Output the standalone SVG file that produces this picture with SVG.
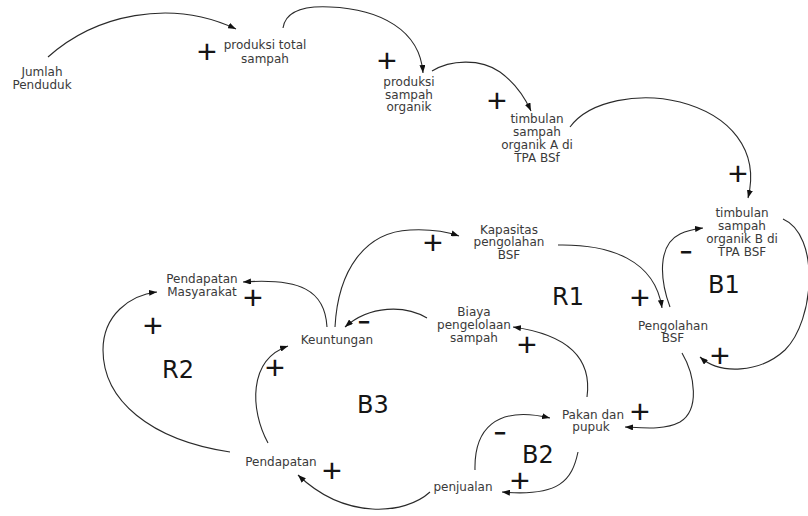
<svg xmlns="http://www.w3.org/2000/svg" width="808" height="516" viewBox="0 0 808 516">
<defs>
<style>
.n{font-family:"DejaVu Sans","Liberation Sans",sans-serif;font-size:12px;fill:#3a3a3a;text-anchor:middle}
.L{font-family:"DejaVu Sans","Liberation Sans",sans-serif;font-size:24px;fill:#151515}
.s{font-family:"Liberation Sans",Arial,sans-serif;font-size:34px;fill:#151515;text-anchor:middle}
.m{font-family:"Liberation Sans",Arial,sans-serif;font-size:18px;fill:#151515;stroke:#151515;stroke-width:1.4;text-anchor:middle}
.c{fill:none;stroke:#2a2a2a;stroke-width:1.1;marker-end:url(#ah)}
</style>
<marker id="ah" markerWidth="8" markerHeight="6" refX="8" refY="3" orient="auto" markerUnits="userSpaceOnUse"><path d="M0,0 L8,3 L0,6 z" fill="#111"/></marker>
</defs>
<rect width="808" height="516" fill="#fff"/>
<g id="connectors">
<path class="c" d="M48,57 C95,15 170,-2 236,29"/>
<path class="c" d="M283,28 C286,8 310,6 330,7 C380,9 420,30 423,73"/>
<path class="c" d="M432,71 C450,60 480,58 500,72 C515,83 525,98 531,111"/>
<path class="c" d="M570,127 C590,100 640,92 680,102 C730,115 760,150 748,198"/>
<path class="c" d="M335,327 C338,270 365,232 410,230 C430,229 445,231 459,236"/>
<path class="c" d="M558,245 C610,244 655,260 662,308"/>
<path class="c" d="M670,307 C660,280 657,245 680,234 C688,230 695,229 703,228"/>
<path class="c" d="M783,219 C820,235 815,320 785,350 C760,373 720,375 700,357"/>
<path class="c" d="M682,353 C695,375 700,410 680,422 C665,430 645,428 625,427"/>
<path class="c" d="M587,397 C592,360 570,335 513,327"/>
<path class="c" d="M427,318 C405,305 370,305 345,327"/>
<path class="c" d="M327,327 C325,290 300,278 243,282"/>
<path class="c" d="M230,452 C150,440 103,400 103,350 C103,315 130,295 157,292"/>
<path class="c" d="M268,443 C250,410 248,360 288,346"/>
<path class="c" d="M430,492 C405,515 345,520 298,475"/>
<path class="c" d="M578,452 C572,480 560,497 502,492"/>
<path class="c" d="M475,470 C474,430 495,405 550,418"/>
</g>
<g id="signs">
<text class="s" x="207" y="63">+</text>
<text class="s" x="387" y="72">+</text>
<text class="s" x="497" y="112">+</text>
<text class="s" x="738" y="185">+</text>
<text class="s" x="433" y="254">+</text>
<text class="s" x="640" y="309">+</text>
<text class="s" x="720" y="367">+</text>
<text class="s" x="640" y="423">+</text>
<text class="s" x="527" y="356">+</text>
<text class="s" x="253" y="309">+</text>
<text class="s" x="153" y="337">+</text>
<text class="s" x="275" y="379">+</text>
<text class="s" x="332" y="482">+</text>
<text class="s" x="520" y="492">+</text>
<text class="m" x="686" y="257.5">−</text>
<text class="m" x="364" y="328">−</text>
<text class="m" x="500" y="438.5">−</text>
</g>
<g id="loops">
<text class="L" x="552" y="305">R1</text>
<text class="L" x="708" y="293">B1</text>
<text class="L" x="162" y="378">R2</text>
<text class="L" x="357" y="413">B3</text>
<text class="L" x="522" y="463">B2</text>
</g>
<g id="jumlah-penduduk"><text class="n" y="76"><tspan x="42">Jumlah</tspan><tspan x="42" dy="13">Penduduk</tspan></text></g>
<g id="produksi-total"><text class="n" y="49"><tspan x="265">produksi total</tspan><tspan x="265" dy="14">sampah</tspan></text></g>
<g id="produksi-organik"><text class="n" y="86"><tspan x="409">produksi</tspan><tspan x="409" dy="12.5">sampah</tspan><tspan x="409" dy="12.5">organik</tspan></text></g>
<g id="timbulan-a"><text class="n" y="123"><tspan x="537">timbulan</tspan><tspan x="537" dy="13">sampah</tspan><tspan x="537" dy="13">organik A di</tspan><tspan x="537" dy="13">TPA BSf</tspan></text></g>
<g id="timbulan-b"><text class="n" y="217"><tspan x="742">timbulan</tspan><tspan x="742" dy="13">sampah</tspan><tspan x="742" dy="13">organik B di</tspan><tspan x="742" dy="13">TPA BSF</tspan></text></g>
<g id="kapasitas"><text class="n" y="233.5"><tspan x="509">Kapasitas</tspan><tspan x="509" dy="12.5">pengolahan</tspan><tspan x="509" dy="12.5">BSF</tspan></text></g>
<g id="pengolahan"><text class="n" y="329.5"><tspan x="673">Pengolahan</tspan><tspan x="673" dy="12.5">BSF</tspan></text></g>
<g id="biaya"><text class="n" y="316"><tspan x="474">Biaya</tspan><tspan x="474" dy="13">pengelolaan</tspan><tspan x="474" dy="13">sampah</tspan></text></g>
<g id="keuntungan"><text class="n" x="337" y="344">Keuntungan</text></g>
<g id="pendapatan-masyarakat"><text class="n" y="283"><tspan x="202">Pendapatan</tspan><tspan x="202" dy="13">Masyarakat</tspan></text></g>
<g id="pakan"><text class="n" y="418.5"><tspan x="593">Pakan dan</tspan><tspan x="591" dy="12.5">pupuk</tspan></text></g>
<g id="pendapatan"><text class="n" x="281" y="466">Pendapatan</text></g>
<g id="penjualan"><text class="n" x="463" y="491">penjualan</text></g>
</svg>
